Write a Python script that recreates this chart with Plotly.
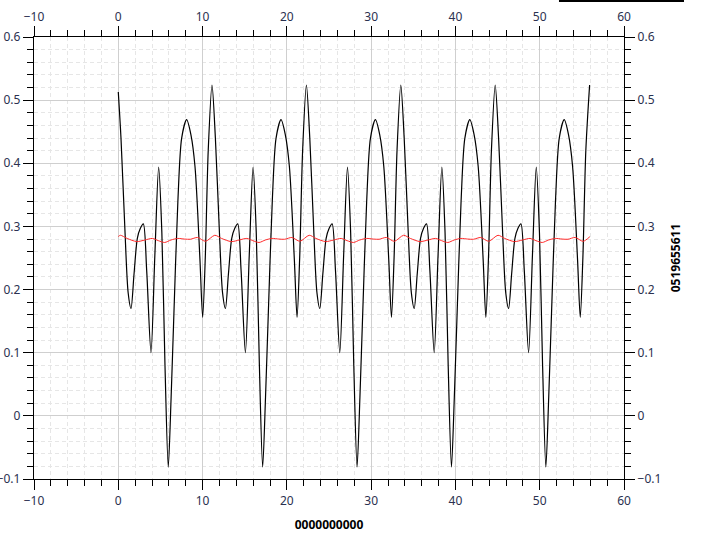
import plotly.graph_objects as go

# Black series
black_x = [0.00, 0.32, 0.77, 1.17, 1.51, 1.87, 2.26, 2.62, 2.97, 3.37, 3.88, 4.34, 4.79, 5.17, 5.54, 5.93, 6.27, 6.57, 7.07, 7.52, 8.11, 8.62, 9.10, 9.69, 10.01, 10.32, 10.67,
           11.12, 11.52, 11.97, 12.37, 12.71, 13.07, 13.46, 13.82, 14.17, 14.57, 15.08, 15.54, 15.99, 16.37, 16.74, 17.13, 17.47, 17.77, 18.27, 18.72, 19.31, 19.82, 20.30, 20.89, 21.21, 21.52, 21.87,
           22.32, 22.72, 23.17, 23.57, 23.91, 24.27, 24.66, 25.02, 25.37, 25.77, 26.28, 26.74, 27.19, 27.57, 27.94, 28.33, 28.67, 28.97, 29.47, 29.92, 30.51, 31.02, 31.50, 32.09, 32.41, 32.72, 33.07,
           33.52, 33.92, 34.37, 34.77, 35.11, 35.47, 35.86, 36.22, 36.57, 36.97, 37.48, 37.94, 38.39, 38.77, 39.14, 39.53, 39.87, 40.17, 40.67, 41.12, 41.71, 42.22, 42.70, 43.29, 43.61, 43.92, 44.27,
           44.72, 45.12, 45.57, 45.97, 46.31, 46.67, 47.06, 47.42, 47.77, 48.17, 48.68, 49.14, 49.59, 49.97, 50.34, 50.73, 51.07, 51.37, 51.87, 52.32, 52.91, 53.42, 53.90, 54.49, 54.81, 55.12, 55.47,
           55.92]
black_y = [0.513, 0.44, 0.30, 0.195, 0.170, 0.225, 0.281, 0.297, 0.304, 0.230, 0.100, 0.255, 0.394, 0.290, 0.080, -0.081, 0.030, 0.150, 0.340, 0.440, 0.469, 0.445, 0.395, 0.247, 0.156, 0.250, 0.420,
           0.524, 0.44, 0.30, 0.195, 0.170, 0.225, 0.281, 0.297, 0.304, 0.230, 0.100, 0.255, 0.394, 0.290, 0.080, -0.081, 0.030, 0.150, 0.340, 0.440, 0.469, 0.445, 0.395, 0.247, 0.156, 0.250, 0.420,
           0.524, 0.44, 0.30, 0.195, 0.170, 0.225, 0.281, 0.297, 0.304, 0.230, 0.100, 0.255, 0.394, 0.290, 0.080, -0.081, 0.030, 0.150, 0.340, 0.440, 0.469, 0.445, 0.395, 0.247, 0.156, 0.250, 0.420,
           0.524, 0.44, 0.30, 0.195, 0.170, 0.225, 0.281, 0.297, 0.304, 0.230, 0.100, 0.255, 0.394, 0.290, 0.080, -0.081, 0.030, 0.150, 0.340, 0.440, 0.469, 0.445, 0.395, 0.247, 0.156, 0.250, 0.420,
           0.524, 0.44, 0.30, 0.195, 0.170, 0.225, 0.281, 0.297, 0.304, 0.230, 0.100, 0.255, 0.394, 0.290, 0.080, -0.081, 0.030, 0.150, 0.340, 0.440, 0.469, 0.445, 0.395, 0.247, 0.156, 0.250, 0.420,
           0.524]

# Red series
red_x = [0.00, 0.25, 1.05, 2.20, 3.15, 4.05, 4.75, 5.50, 6.25, 7.05, 7.85, 8.55, 9.40, 10.35,
         11.45, 12.25, 13.40, 14.35, 15.25, 15.95, 16.70, 17.45, 18.25, 19.05, 19.75, 20.60, 21.55,
         22.65, 23.45, 24.60, 25.55, 26.45, 27.15, 27.90, 28.65, 29.45, 30.25, 30.95, 31.80, 32.75,
         33.85, 34.65, 35.80, 36.75, 37.65, 38.35, 39.10, 39.85, 40.65, 41.45, 42.15, 43.00, 43.95,
         45.05, 45.85, 47.00, 47.95, 48.85, 49.55, 50.30, 51.05, 51.85, 52.65, 53.35, 54.20, 55.15,
         55.95]
red_y = [0.2840, 0.2860, 0.2810, 0.2760, 0.2785, 0.2810, 0.2775, 0.2746, 0.2785, 0.2810, 0.2800, 0.2797, 0.2825, 0.2765,
         0.2860, 0.2810, 0.2760, 0.2785, 0.2810, 0.2775, 0.2746, 0.2785, 0.2810, 0.2800, 0.2797, 0.2825, 0.2765,
         0.2860, 0.2810, 0.2760, 0.2785, 0.2810, 0.2775, 0.2746, 0.2785, 0.2810, 0.2800, 0.2797, 0.2825, 0.2765,
         0.2860, 0.2810, 0.2760, 0.2785, 0.2810, 0.2775, 0.2746, 0.2785, 0.2810, 0.2800, 0.2797, 0.2825, 0.2765,
         0.2860, 0.2810, 0.2760, 0.2785, 0.2810, 0.2775, 0.2746, 0.2785, 0.2810, 0.2800, 0.2797, 0.2825, 0.2765,
         0.2838]

x_range = [-10, 60]
y_range = [-0.1, 0.6]
x_title = "0000000000"
y2_title = "0519655611"

TICK_COLOR = "#2b3150"
FONT = "Noto Sans"
DASH = "4px,3px"

fig = go.Figure()
fig.add_trace(go.Scatter(x=black_x, y=black_y, mode="lines",
                         line=dict(color="black", width=1.2, shape="spline", smoothing=0.8),
                         showlegend=False, hoverinfo="skip"))
fig.add_trace(go.Scatter(x=red_x, y=red_y, mode="lines",
                         line=dict(color="#ff2a2a", width=1, shape="spline", smoothing=0.8),
                         showlegend=False, hoverinfo="skip"))
# invisible trace to bind top/right axes
fig.add_trace(go.Scatter(x=x_range, y=y_range, xaxis="x2", yaxis="y2", mode="markers",
                         marker=dict(opacity=0), showlegend=False, hoverinfo="skip"))

common_x = dict(range=x_range, dtick=10, tick0=0, ticks="outside", ticklen=10, tickwidth=1,
                tickcolor="black", showline=True, linecolor="black", linewidth=1.3,
                zeroline=False, automargin=False,
                tickfont=dict(family=FONT, size=12, color=TICK_COLOR))
common_y = dict(range=y_range, dtick=0.1, tick0=0, ticks="outside", ticklen=10, tickwidth=1,
                tickcolor="black", showline=True, linecolor="black", linewidth=1.3,
                zeroline=False, automargin=False,
                tickfont=dict(family=FONT, size=12, color=TICK_COLOR))

fig.update_layout(
    width=704, height=536,
    margin=dict(l=34, r=80, t=37, b=57),
    plot_bgcolor="white", paper_bgcolor="white",
    font=dict(family=FONT, size=12, color="black"),
    xaxis=dict(**common_x, showgrid=True, gridcolor="#cfcfcf", gridwidth=1,
               minor=dict(dtick=2, ticks="outside", ticklen=6, tickcolor="black",
                          showgrid=True, gridcolor="#e6e6e6", griddash=DASH),
               title=dict(text="<b>" + x_title + "</b>", font=dict(family=FONT, size=12, color="black"),
                          standoff=13)),
    yaxis=dict(**common_y, showgrid=True, gridcolor="#cfcfcf", gridwidth=1,
               minor=dict(dtick=0.02, ticks="outside", ticklen=6, tickcolor="black",
                          showgrid=True, gridcolor="#e6e6e6", griddash=DASH)),
    xaxis2=dict(**common_x, overlaying="x", side="top", anchor="y", showgrid=False,
                minor=dict(dtick=2, ticks="outside", ticklen=6, tickcolor="black", showgrid=False)),
    yaxis2=dict(**common_y, overlaying="y", side="right", anchor="x", showgrid=False,
                minor=dict(dtick=0.02, ticks="outside", ticklen=6, tickcolor="black", showgrid=False),
                title=dict(text="<b>" + y2_title + "</b>", font=dict(family=FONT, size=12, color="black"),
                           standoff=11)),
    shapes=[dict(type="line", xref="paper", yref="paper", x0=0.8898, x1=1.1017, y0=1.0814, y1=1.0814,
                 line=dict(color="black", width=2))],
)

fig.write_html("out.html", config={"displayModeBar": False},
               post_script="document.body.style.margin='0';")
